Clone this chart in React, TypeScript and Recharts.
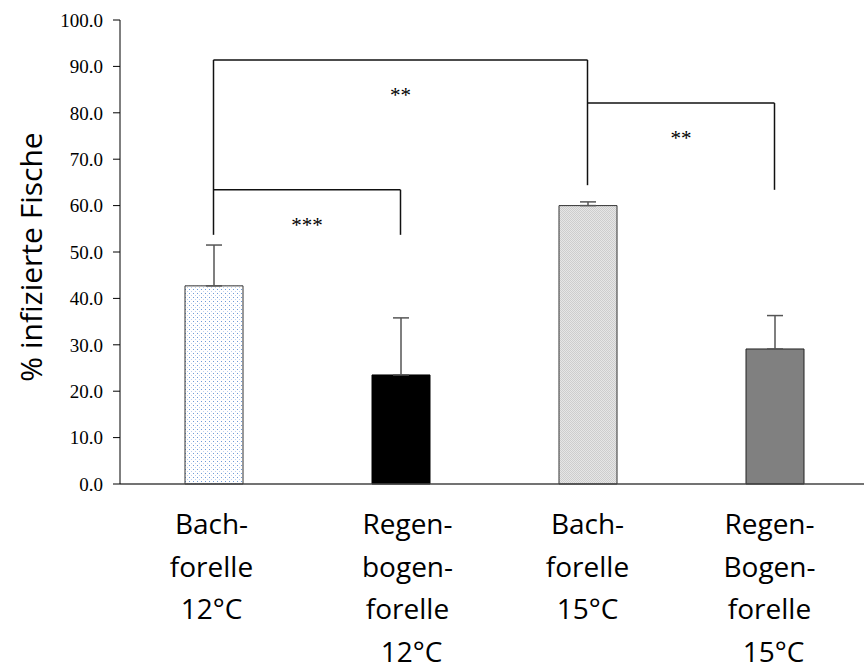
import React from 'react';
import { BarChart, Bar, XAxis, YAxis, Cell, ErrorBar, ReferenceLine } from 'recharts';

const categories = [
  'Bach-|forelle|12°C',
  'Regen-|bogen-|forelle|12°C',
  'Bach-|forelle|15°C',
  'Regen-|Bogen-|forelle|15°C',
];
const infectedPct = [42.7, 23.5, 60.0, 29.1];
const errorUp = [8.8, 12.3, 0.8, 7.2];
const yTicks = [0, 10, 20, 30, 40, 50, 60, 70, 80, 90, 100];

// significance brackets: category indices, top value, leg ends, label
const bracketFrom = [0, 0, 2];
const bracketTo = [2, 1, 3];
const bracketTop = [91.4, 63.4, 82.1];
const bracketLeftEnd: (number | null)[] = [53.7, null, null];
const bracketRightEnd = [64.4, 53.7, 63.4];
const bracketLabel = ['**', '***', '**'];

const fills = ['url(#dotsBlue)', '#000000', 'url(#checkGray)', '#808080'];
const strokes = ['#333333', '#000000', '#333333', '#222222'];
const LABEL_DX = [-2, 7, 0, -5];

const data = categories.map((c, i) => ({
  name: c,
  value: infectedPct[i],
  err: [0, errorUp[i]],
}));

const XTick = (props: any) => {
  const { x, y, payload, index } = props;
  const lines = String(payload.value).split('|');
  const cx = x + (LABEL_DX[index] || 0);
  return (
    <text x={cx} y={y + 50} textAnchor="middle" fontFamily="'Open Sans'" fontSize={28} fill="#000">
      {lines.map((l: string, i: number) => (
        <tspan key={i} x={cx + (i === 3 ? 4 : 0)} dy={i === 0 ? 0 : 42.5}>
          {l}
        </tspan>
      ))}
    </text>
  );
};

const YTitle = () => (
  <text
    x={42}
    y={257}
    transform="rotate(-90 42 257)"
    textAnchor="middle"
    fontFamily="'Open Sans'"
    fontSize={30}
    fill="#000"
  >
    % infizierte Fische
  </text>
);

export default function App() {
  return (
    <div style={{ position: 'fixed', left: 0, top: 0, width: 864, height: 672, overflow: 'hidden', background: '#fff' }}>
      <BarChart width={868} height={672} data={data} margin={{ top: 20, right: 0, bottom: 0, left: 0 }}>
        <defs>
          <pattern id="dotsBlue" width="4" height="4" patternUnits="userSpaceOnUse">
            <rect width="4" height="4" fill="#ffffff" />
            <rect x="1" y="1" width="1" height="1" fill="#6f9ad6" />
            <rect x="3" y="3" width="1" height="1" fill="#bcd0ee" />
          </pattern>
          <pattern id="checkGray" width="2" height="2" patternUnits="userSpaceOnUse">
            <rect width="2" height="2" fill="#e6e6e6" />
            <rect x="0" y="0" width="1" height="1" fill="#cdcdcd" />
            <rect x="1" y="1" width="1" height="1" fill="#cdcdcd" />
          </pattern>
        </defs>
        <XAxis
          dataKey="name"
          height={188}
          tickLine={false}
          tickSize={0}
          tickMargin={0}
          tick={<XTick />}
          interval={0}
          stroke="#444"
          strokeWidth={1.5}
        />
        <YAxis
          width={120}
          domain={[0, 100]}
          ticks={yTicks}
          tickFormatter={(v: number) => v.toFixed(1)}
          tickSize={7}
          tickMargin={10}
          interval={0}
          stroke="#000"
          tick={{ fill: '#000', fontFamily: "'Liberation Serif'", fontSize: 19 }}
        />
        <Bar dataKey="value" barSize={58} isAnimationActive={false}>
          {data.map((d, i) => (
            <Cell key={d.name} fill={fills[i]} stroke={strokes[i]} strokeWidth={1} />
          ))}
          <ErrorBar dataKey="err" width={8} stroke="#555" strokeWidth={1.5} direction="y" />
        </Bar>
        {bracketTop.map((top, k) => (
          <ReferenceLine
            key={'top' + k}
            segment={[
              { x: categories[bracketFrom[k]], y: top },
              { x: categories[bracketTo[k]], y: top },
            ]}
            stroke="#111"
            strokeWidth={1.5}
            label={{
              value: bracketLabel[k],
              position: 'bottom',
              offset: 27,
              fontSize: 21,
              fill: '#000',
              fontFamily: "'Liberation Serif'",
            }}
          />
        ))}
        {bracketTop.map((top, k) => (
          <ReferenceLine
            key={'right' + k}
            segment={[
              { x: categories[bracketTo[k]], y: top },
              { x: categories[bracketTo[k]], y: bracketRightEnd[k] },
            ]}
            stroke="#111"
            strokeWidth={1.5}
          />
        ))}
        {bracketTop.map((top, k) =>
          bracketLeftEnd[k] == null ? null : (
            <ReferenceLine
              key={'left' + k}
              segment={[
                { x: categories[bracketFrom[k]], y: top },
                { x: categories[bracketFrom[k]], y: bracketLeftEnd[k] as number },
              ]}
              stroke="#111"
              strokeWidth={1.5}
            />
          )
        )}
        <YTitle />
      </BarChart>
    </div>
  );
}
